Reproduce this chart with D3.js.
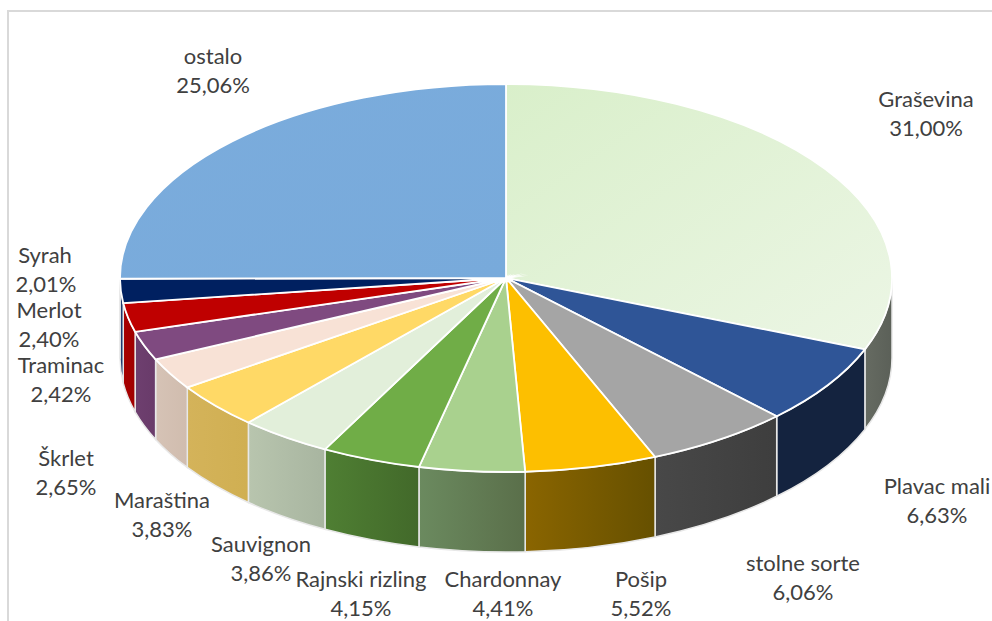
<!DOCTYPE html>
<html>
<head>
<meta charset="utf-8">
<script src="https://cdn.jsdelivr.net/npm/d3@7"></script>
<style>
    html, body { margin: 0; padding: 0; background: #fff; overflow: hidden; }
    text { font-family: Lato, "Open Sans", sans-serif; font-size: 22px; fill: #404040; text-anchor: middle; }
</style>
</head>
<body>
<div id="chart"></div>
<script>
const width = 992;
const height = 621;

const categories = ["Graševina", "Plavac mali", "stolne sorte", "Pošip", "Chardonnay", "Rajnski rizling",
    "Sauvignon", "Maraština", "Škrlet", "Traminac", "Merlot", "Syrah", "ostalo"];
const values = [31.00, 6.63, 6.06, 5.52, 4.41, 4.15, 3.86, 3.83, 2.65, 2.42, 2.40, 2.01, 25.06];

// top face: start and end of the soft gradient
const topColors = [["#d9efca", "#ecf6e5"], ["#2f5597", "#2f5597"], ["#a5a5a5", "#a5a5a5"], ["#fdbf00", "#fdbf00"],
    ["#a9d18e", "#a9d18e"], ["#70ad47", "#70ad47"], ["#e2efda", "#e2efda"], ["#ffd966", "#ffd966"],
    ["#f8e2d6", "#f8e2d6"], ["#7f4a80", "#7f4a80"], ["#bf0000", "#bf0000"], ["#002060", "#002060"], ["#7bacdc", "#78aadb"]];
const sideColors = [["#666b62", "#5b6058"], ["#14233f", "#14233f"], ["#484848", "#3e3e3e"], ["#8a6500", "#665000"],
    ["#6b8a5f", "#5a6f4a"], ["#4f7f33", "#42692a"], ["#b8c5ae", "#a8b5a0"], ["#d4b35a", "#d0af52"],
    ["#d6c3b6", "#d0bcae"], ["#6e3f6f", "#693b6a"], ["#a80000", "#a00000"], ["#1f3a6e", "#1f3a6e"], ["#5a82a8", "#5a82a8"]];

// label centres, picked by hand like the manual placement in the original
const labelX = [926, 937, 803, 641, 503, 361, 261, 162, 66, 61, 49, 45, 213];
const labelY = [107, 494, 571, 587, 587, 587, 552, 508, 466, 373, 318, 263, 64];
const labelShift = [0, 0, 0, 0, 0, 0, 0, 0, 0, 0, 0, 1, 0];

const cx = 506;
const cy = 278;
const rx = 386;
const ry = 194;
const depth = 80;

const svg = d3.select("#chart")
    .append("svg")
    .attr("width", width)
    .attr("height", height);

// chart frame, only top and left show in the crop
svg.append("path")
    .attr("d", `M8,${height}V11H${width}`)
    .attr("fill", "none")
    .attr("stroke", "#d9d9d9")
    .attr("stroke-width", 2);

const defs = svg.append("defs");

function addGradient(id, colors, x2, y2) {
    const g = defs.append("linearGradient")
        .attr("id", id)
        .attr("x1", 0).attr("y1", 0)
        .attr("x2", x2).attr("y2", y2);
    g.append("stop").attr("offset", "0%").attr("stop-color", colors[0]);
    g.append("stop").attr("offset", "100%").attr("stop-color", colors[1]);
}

topColors.forEach((c, i) => addGradient("top" + i, c, 1, 1));
sideColors.forEach((c, i) => addGradient("side" + i, c, 1, 0));

const slices = d3.pie().sort(null).value(d => d)(values);

const ex = a => cx + rx * Math.sin(a);
const ey = a => cy - ry * Math.cos(a);

/* ------------------------
   WALLS (front half only)
-------------------------*/
function wallPath(d) {
    const a0 = Math.max(d.startAngle, Math.PI / 2);
    const a1 = Math.min(d.endAngle, Math.PI * 1.5);
    if (a1 <= a0) return null;
    return `M${ex(a0)},${ey(a0)}` +
        `A${rx},${ry} 0 0 1 ${ex(a1)},${ey(a1)}` +
        `V${ey(a1) + depth}` +
        `A${rx},${ry} 0 0 0 ${ex(a0)},${ey(a0) + depth}Z`;
}

svg.append("g")
    .selectAll("path")
    .data(slices.filter(d => wallPath(d)))
    .enter()
    .append("path")
    .attr("d", wallPath)
    .attr("fill", d => `url(#side${d.index})`)
    .attr("stroke", "#e8e8e8")
    .attr("stroke-width", 1.5);

/* ------------------------
   TOP FACE
-------------------------*/
const arc = d3.arc().innerRadius(0).outerRadius(rx);

svg.append("g")
    .attr("transform", `translate(${cx},${cy}) scale(1,${ry / rx})`)
    .selectAll("path")
    .data(slices)
    .enter()
    .append("path")
    .attr("d", arc)
    .attr("fill", d => `url(#top${d.index})`)
    .attr("stroke", "#fff")
    .attr("stroke-width", 1.8)
    .attr("stroke-linejoin", "miter")
    .attr("stroke-miterlimit", 30)
    .attr("vector-effect", "non-scaling-stroke");

// separators melt together near the middle
svg.append("ellipse")
    .attr("cx", cx - 11)
    .attr("cy", cy + 2.5)
    .attr("rx", 18)
    .attr("ry", 2.5)
    .attr("fill", "#fff");

/* ------------------------
   LABELS
-------------------------*/
const fmt = v => v.toFixed(2).replace(".", ",") + "%";

const labels = svg.append("g")
    .selectAll("text")
    .data(categories)
    .enter()
    .append("text")
    .attr("y", (d, i) => labelY[i]);

labels.append("tspan")
    .attr("x", (d, i) => labelX[i])
    .text(d => d);

labels.append("tspan")
    .attr("x", (d, i) => labelX[i] + labelShift[i])
    .attr("dy", 29)
    .text((d, i) => fmt(values[i]));
</script>
</body>
</html>
